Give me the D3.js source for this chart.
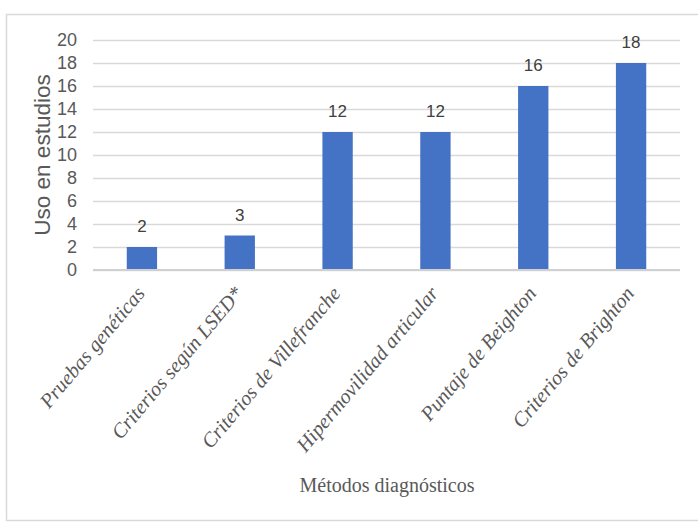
<!DOCTYPE html>
<html>
<head>
<meta charset="utf-8">
<script src="https://cdn.jsdelivr.net/npm/d3@7"></script>
<style>
  body { margin: 0; background: #fff; }
  svg { display: block; }
</style>
</head>
<body>
<svg id="chart"></svg>
<script>
const categories = [
  "Pruebas genéticas",
  "Criterios según LSED*",
  "Criterios de Villefranche",
  "Hipermovilidad articular",
  "Puntaje de Beighton",
  "Criterios de Brighton"
];
const values = [2, 3, 12, 12, 16, 18];
const yTicks = [0, 2, 4, 6, 8, 10, 12, 14, 16, 18, 20];
const yTitle = "Uso en estudios";
const xTitle = "Métodos diagnósticos";

const w = 698;
const h = 522;
const margin = { top: 40, right: 18, bottom: 252, left: 93 };

const sans = "'Liberation Sans Narrow', 'Liberation Sans', Roboto, sans-serif";
const serif = "'Liberation Serif', 'DejaVu Serif', serif";

const svg = d3.select("#chart").attr("width", w).attr("height", h);

// outer chart frame
svg.append("rect")
  .attr("x", 6.5).attr("y", 14.5)
  .attr("width", w).attr("height", 506)
  .attr("fill", "#fff")
  .attr("stroke", "#d9d9d9")
  .attr("stroke-width", 1.5);

const xScale = d3.scaleBand()
  .domain(categories)
  .range([margin.left, w - margin.right])
  .paddingInner(0.69)
  .paddingOuter(0.345);

const yScale = d3.scaleLinear()
  .domain([0, 20])
  .range([h - margin.bottom, margin.top]);

// gridlines
svg.append("g")
  .attr("transform", `translate(${margin.left}, 0)`)
  .call(d3.axisLeft(yScale).tickValues(yTicks).tickSize(-(w - margin.left - margin.right)).tickFormat(""))
  .call((g) => g.select(".domain").remove())
  .call((g) => g.selectAll(".tick line").attr("stroke", "#d9d9d9").attr("stroke-width", 1.5));

// y tick labels
svg.append("g")
  .attr("transform", `translate(${margin.left}, 0)`)
  .call(d3.axisLeft(yScale).tickValues(yTicks).tickSize(0).tickPadding(16))
  .call((g) => g.select(".domain").remove())
  .call((g) => g.selectAll("text")
    .attr("fill", "#595959")
    .style("font-family", sans)
    .style("font-size", "18px"));

// bars
svg.selectAll(".bar")
  .data(values)
  .enter()
  .append("rect")
  .attr("class", "bar")
  .attr("x", (d, i) => xScale(categories[i]))
  .attr("y", (d) => yScale(d))
  .attr("width", xScale.bandwidth())
  .attr("height", (d) => yScale(0) - yScale(d))
  .attr("fill", "#4472c4");

// baseline
svg.append("line")
  .attr("x1", margin.left).attr("x2", w - margin.right)
  .attr("y1", yScale(0)).attr("y2", yScale(0))
  .attr("stroke", "#d0d0d0")
  .attr("stroke-width", 2);

// value labels
svg.selectAll(".val")
  .data(values)
  .enter()
  .append("text")
  .attr("class", "val")
  .attr("x", (d, i) => xScale(categories[i]) + xScale.bandwidth() / 2)
  .attr("y", (d) => yScale(d) - 15)
  .attr("text-anchor", "middle")
  .attr("fill", "#404040")
  .style("font-family", sans)
  .style("font-size", "17px")
  .text((d) => d);

// category labels
svg.selectAll(".cat")
  .data(categories)
  .enter()
  .append("text")
  .attr("class", "cat")
  .attr("transform", (d) => `translate(${xScale(d) + xScale.bandwidth() / 2 + 4}, 294) rotate(-50)`)
  .attr("text-anchor", "end")
  .attr("fill", "#595959")
  .style("font-family", serif)
  .style("font-style", "italic")
  .style("font-size", "20.5px")
  .text((d) => d);

// axis titles
svg.append("text")
  .attr("transform", `translate(50, 155) rotate(-90)`)
  .attr("text-anchor", "middle")
  .attr("fill", "#595959")
  .style("font-family", sans)
  .style("font-size", "22.5px")
  .text(yTitle);

svg.append("text")
  .attr("x", 387)
  .attr("y", 492)
  .attr("text-anchor", "middle")
  .attr("fill", "#595959")
  .style("font-family", serif)
  .style("font-size", "20px")
  .text(xTitle);
</script>
</body>
</html>
